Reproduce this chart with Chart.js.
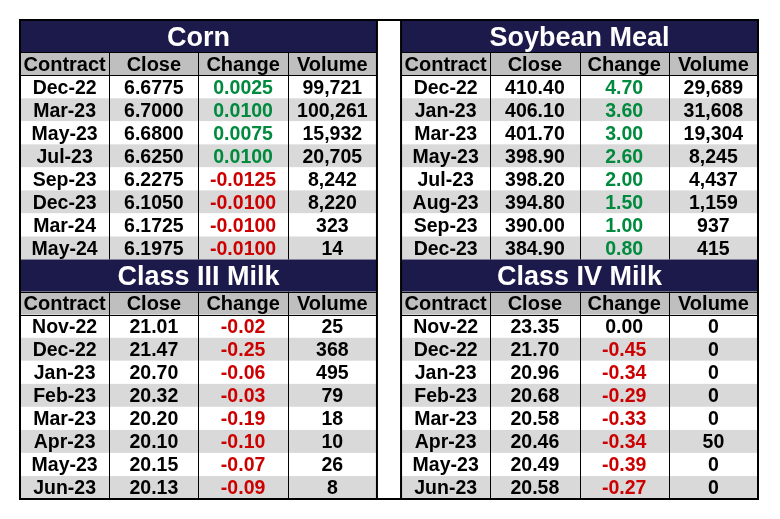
<!DOCTYPE html>
<html><head><meta charset="utf-8">
<script src="https://cdn.jsdelivr.net/npm/chart.js@4.4.0/dist/chart.umd.min.js"></script>
<style>html,body{margin:0;padding:0;background:#fff}#c{display:block}</style>
</head><body>
<canvas id="c" width="780" height="519"></canvas>
<script>
const headers = ["Contract","Close","Change","Volume"];
const tableTitles = ["Corn","Soybean Meal","Class III Milk","Class IV Milk"];

const cornContracts = ["Dec-22","Mar-23","May-23","Jul-23","Sep-23","Dec-23","Mar-24","May-24"];
const cornClose = [6.6775,6.7000,6.6800,6.6250,6.2275,6.1050,6.1725,6.1975];
const cornChange = [0.0025,0.0100,0.0075,0.0100,-0.0125,-0.0100,-0.0100,-0.0100];
const cornVolume = [99721,100261,15932,20705,8242,8220,323,14];

const soyContracts = ["Dec-22","Jan-23","Mar-23","May-23","Jul-23","Aug-23","Sep-23","Dec-23"];
const soyClose = [410.40,406.10,401.70,398.90,398.20,394.80,390.00,384.90];
const soyChange = [4.70,3.60,3.00,2.60,2.00,1.50,1.00,0.80];
const soyVolume = [29689,31608,19304,8245,4437,1159,937,415];

const milk3Contracts = ["Nov-22","Dec-22","Jan-23","Feb-23","Mar-23","Apr-23","May-23","Jun-23"];
const milk3Close = [21.01,21.47,20.70,20.32,20.20,20.10,20.15,20.13];
const milk3Change = [-0.02,-0.25,-0.06,-0.03,-0.19,-0.10,-0.07,-0.09];
const milk3Volume = [25,368,495,79,18,10,26,8];

const milk4Contracts = ["Nov-22","Dec-22","Jan-23","Feb-23","Mar-23","Apr-23","May-23","Jun-23"];
const milk4Close = [23.35,21.70,20.96,20.68,20.58,20.46,20.49,20.58];
const milk4Change = [0.00,-0.45,-0.34,-0.29,-0.33,-0.34,-0.39,-0.27];
const milk4Volume = [0,0,0,0,0,50,0,0];

// layout (in scale units)
const TITLE_H = 1.4, GAP = 0.27;
const SECTION_H = TITLE_H + 1 + 8;
const tables = [
  {title: tableTitles[0], contracts: cornContracts, close: cornClose, change: cornChange, volume: cornVolume, dec: 4, col: 0, row: 0},
  {title: tableTitles[1], contracts: soyContracts, close: soyClose, change: soyChange, volume: soyVolume, dec: 2, col: 4 + GAP, row: 0},
  {title: tableTitles[2], contracts: milk3Contracts, close: milk3Close, change: milk3Change, volume: milk3Volume, dec: 2, col: 0, row: SECTION_H},
  {title: tableTitles[3], contracts: milk4Contracts, close: milk4Close, change: milk4Change, volume: milk4Volume, dec: 2, col: 4 + GAP, row: SECTION_H}
];

const NAVY = '#1b1a4b', HEAD = '#bfbfbf', STRIPE = '#d9d9d9', GREEN = '#008a3e', RED = '#cc0000';
const FONT = '"Liberation Sans", Arial, sans-serif';

function fmtVol(v){ return v.toLocaleString('en-US'); }

const tablePlugin = {
  id: 'tablePlugin',
  afterDraw(chart){
    const ctx = chart.ctx, xs = chart.scales.x, ys = chart.scales.y;
    const X = v => xs.getPixelForValue(v), Y = v => ys.getPixelForValue(v);
    ctx.save();
    const text = (s, cx, cy, size, color) => {
      ctx.font = 'bold ' + size + 'px ' + FONT;
      ctx.fillStyle = color;
      ctx.textAlign = 'center';
      ctx.textBaseline = 'alphabetic';
      ctx.fillText(s, cx, cy + size * 0.35);
    };
    tables.forEach(t => {
      const x0 = X(t.col), x4 = X(t.col + 4);
      const yT = Y(t.row), yH = Y(t.row + TITLE_H), yD = Y(t.row + TITLE_H + 1), yE = Y(t.row + SECTION_H);
      // title
      ctx.fillStyle = NAVY;
      ctx.fillRect(x0, yT, x4 - x0, yH - yT);
      text(t.title, (x0 + x4) / 2, (yT + yH) / 2, 27, '#ffffff');
      // header
      ctx.fillStyle = HEAD;
      ctx.fillRect(x0, yH, x4 - x0, yD - yH);
      headers.forEach((h, c) => text(h, (X(t.col + c) + X(t.col + c + 1)) / 2, (yH + yD) / 2, 20, '#000000'));
      // rows
      t.contracts.forEach((name, r) => {
        const ya = Y(t.row + TITLE_H + 1 + r), yb = Y(t.row + TITLE_H + 2 + r);
        ctx.fillStyle = (r % 2 === 1) ? STRIPE : '#ffffff';
        ctx.fillRect(x0, ya, x4 - x0, yb - ya);
        const cy = (ya + yb) / 2;
        const cx = c => (X(t.col + c) + X(t.col + c + 1)) / 2;
        const ch = t.change[r];
        const chColor = ch > 0 ? GREEN : (ch < 0 ? RED : '#000000');
        text(name, cx(0), cy, 19.5, '#000000');
        text(t.close[r].toFixed(t.dec), cx(1), cy, 19.5, '#000000');
        text(ch.toFixed(t.dec), cx(2), cy, 19.5, chColor);
        text(fmtVol(t.volume[r]), cx(3), cy, 19.5, '#000000');
      });
      // grid lines
      ctx.strokeStyle = '#000000';
      ctx.lineWidth = 1;
      ctx.beginPath();
      for (let c = 1; c < 4; c++) {
        const px = Math.round(X(t.col + c)) + 0.5;
        ctx.moveTo(px, yH); ctx.lineTo(px, yE);
      }
      [yH, yD].forEach(py => { const p = Math.round(py) + 0.5; ctx.moveTo(x0, p); ctx.lineTo(x4, p); });
      ctx.stroke();
    });
    // outer borders
    ctx.lineWidth = 2;
    ctx.strokeStyle = '#000000';
    const L = X(0), R = X(8 + GAP), T = Y(0), B = Y(2 * SECTION_H);
    ctx.strokeRect(L, T, R - L, B - T);
    ctx.beginPath();
    [X(4), X(4 + GAP)].forEach(px => { ctx.moveTo(px, T); ctx.lineTo(px, B); });
    ctx.stroke();
    ctx.restore();
  }
};

new Chart(document.getElementById('c'), {
  type: 'scatter',
  data: { datasets: [{ data: [] }] },
  options: {
    responsive: false,
    animation: false,
    devicePixelRatio: 1,
    layout: { padding: { left: 20, top: 20, right: 22, bottom: 20 } },
    scales: {
      x: { type: 'linear', min: 0, max: 8 + GAP, display: false },
      y: { type: 'linear', min: 0, max: 2 * SECTION_H, reverse: true, display: false }
    },
    plugins: { legend: { display: false }, tooltip: { enabled: false } }
  },
  plugins: [tablePlugin]
});
</script>
</body></html>
